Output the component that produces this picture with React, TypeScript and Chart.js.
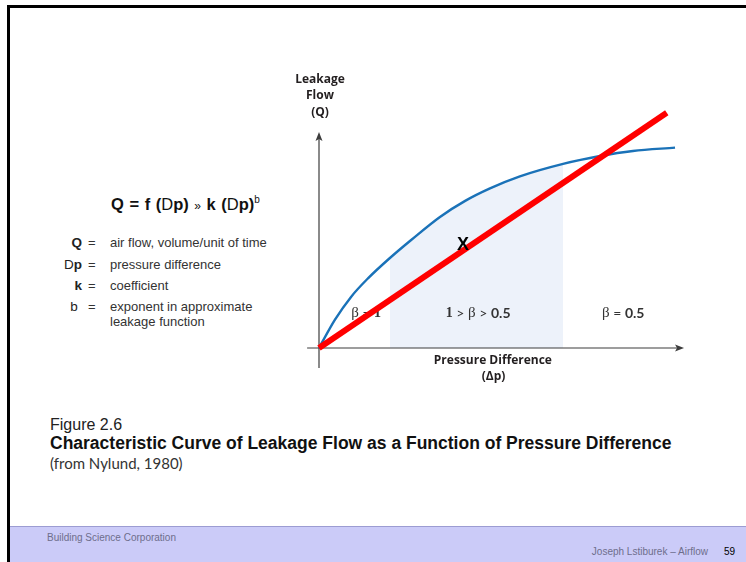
import React, { useEffect, useRef } from "react";
import { Chart, registerables } from "chart.js";

Chart.register(...registerables);

// ---- data (Δp, Q) in arbitrary units ----
const curveX = [0, 0.44, 0.89, 1.36, 1.97, 2.56, 3.36, 4.06, 4.75, 5.58, 6.78, 7.81, 8.72, 9.89];
const curveY = [0, 1.17, 2.13, 2.9, 3.75, 4.5, 5.46, 6.13, 6.65, 7.15, 7.67, 8.0, 8.21, 8.35];
const shadeFrom = 1.97;
const shadeTo = 6.78;
const lineX = [0, 9.66];
const lineY = [0, 9.8];
const markerX = 4.0;
const markerY = 4.28;
const xAxisRange = [-0.33, 10.14];
const yAxisRange = [-0.83, 9.0];

const curvePoints = curveX.map((x, i) => ({ x, y: curveY[i] }));
const shadePoints = curvePoints.filter((p) => p.x >= shadeFrom && p.x <= shadeTo);
const linePoints = lineX.map((x, i) => ({ x, y: lineY[i] }));

const SERIF = '"Liberation Serif", "DejaVu Serif", serif';
const SANS = 'Lato, "Liberation Sans", sans-serif';
const OPEN = '"Open Sans", "DejaVu Sans", sans-serif';

type Piece = [string, string];
const regionLabels: { x: number; y: number; pieces: Piece[] }[] = [
  { x: 1.31, y: 1.44, pieces: [["β", `15px ${SERIF}`], [" = ", `14px ${SANS}`], ["1", `bold 14px ${SERIF}`]] },
  {
    x: 4.42,
    y: 1.44,
    pieces: [
      ["1", `bold 14px ${SERIF}`],
      [" > ", `14px ${SANS}`],
      ["β", `15px ${SERIF}`],
      [" > ", `14px ${SANS}`],
      ["0.5", `bold 14px ${SANS}`],
    ],
  },
  { x: 8.45, y: 1.44, pieces: [["β", `15px ${SERIF}`], [" = ", `14px ${SANS}`], ["0.5", `bold 14px ${SANS}`]] },
];

function drawPieces(ctx: CanvasRenderingContext2D, cx: number, cy: number, pieces: Piece[]) {
  let total = 0;
  const widths = pieces.map(([t, f]) => {
    ctx.font = f;
    const w = ctx.measureText(t).width;
    total += w;
    return w;
  });
  let px = cx - total / 2;
  pieces.forEach(([t, f], i) => {
    ctx.font = f;
    ctx.fillText(t, px, cy);
    px += widths[i];
  });
}

const overlayPlugin = {
  id: "overlay",
  beforeDatasetDraw(chart: any, args: any) {
    if (args.index !== 1) return;
    const { ctx, scales } = chart;
    const xs = scales.x;
    const ys = scales.y;
    const px = (v: number) => xs.getPixelForValue(v);
    const py = (v: number) => ys.getPixelForValue(v);
    ctx.save();
    ctx.strokeStyle = "#3c3c3c";
    ctx.fillStyle = "#3c3c3c";
    ctx.lineWidth = 1.2;
    // x axis
    const x0 = px(0);
    const y0 = py(0);
    ctx.beginPath();
    ctx.moveTo(px(xAxisRange[0]), y0);
    ctx.lineTo(px(xAxisRange[1]) - 4, y0);
    ctx.stroke();
    const xe = px(xAxisRange[1]);
    ctx.beginPath();
    ctx.moveTo(xe, y0);
    ctx.lineTo(xe - 9, y0 - 3.5);
    ctx.lineTo(xe - 7, y0);
    ctx.lineTo(xe - 9, y0 + 3.5);
    ctx.closePath();
    ctx.fill();
    // y axis
    ctx.beginPath();
    ctx.moveTo(x0, py(yAxisRange[0]));
    ctx.lineTo(x0, py(yAxisRange[1]) + 4);
    ctx.stroke();
    const ye = py(yAxisRange[1]);
    ctx.beginPath();
    ctx.moveTo(x0, ye);
    ctx.lineTo(x0 - 3.5, ye + 9);
    ctx.lineTo(x0, ye + 7);
    ctx.lineTo(x0 + 3.5, ye + 9);
    ctx.closePath();
    ctx.fill();

    // axis titles
    ctx.fillStyle = "#231f20";
    ctx.textAlign = "center";
    ctx.textBaseline = "middle";
    ctx.font = `bold 12px ${OPEN}`;
    ctx.fillText("Leakage", x0 + 1, ye - 52);
    ctx.fillText("Flow", x0 + 1, ye - 36);
    ctx.fillText("(Q)", x0 + 1, ye - 19);
    ctx.fillText("Pressure Difference", px(4.83), y0 + 13);
    ctx.fillText("(Δp)", px(4.85), y0 + 29);

    // region labels
    ctx.textAlign = "left";
    ctx.fillStyle = "#333";
    regionLabels.forEach((l) => drawPieces(ctx, px(l.x), py(l.y), l.pieces));
    ctx.restore();
  },
  afterDatasetsDraw(chart: any) {
    const { ctx, scales } = chart;
    ctx.save();
    ctx.fillStyle = "#000";
    ctx.textAlign = "center";
    ctx.textBaseline = "middle";
    ctx.font = 'bold 18px "Liberation Sans", Arial, sans-serif';
    ctx.fillText("X", scales.x.getPixelForValue(markerX), scales.y.getPixelForValue(markerY));
    ctx.restore();
  },
};

function LeakageChart() {
  const ref = useRef<HTMLCanvasElement | null>(null);
  useEffect(() => {
    if (!ref.current) return;
    const chart = new Chart(ref.current, {
      type: "line",
      data: {
        datasets: [
          {
            data: linePoints,
            borderColor: "#ff0000",
            borderWidth: 6,
            pointRadius: 0,
            borderCapStyle: "butt",
            fill: false,
          },
          {
            data: curvePoints,
            borderColor: "#1a72b8",
            borderWidth: 2.4,
            pointRadius: 0,
            cubicInterpolationMode: "monotone",
            fill: false,
          },
          {
            data: shadePoints,
            borderWidth: 0,
            borderColor: "rgba(0,0,0,0)",
            backgroundColor: "#edf2fa",
            pointRadius: 0,
            cubicInterpolationMode: "monotone",
            fill: "origin",
          },
        ],
      } as any,
      options: {
        animation: false,
        responsive: false,
        devicePixelRatio: 1,
        layout: { padding: 0 },
        plugins: { legend: { display: false }, tooltip: { enabled: false } },
        events: [],
        scales: {
          x: { type: "linear", min: -1, max: 11, display: false },
          y: { type: "linear", min: -2, max: 12, display: false },
        },
      } as any,
      plugins: [overlayPlugin],
    });
    return () => chart.destroy();
  }, []);
  return (
    <canvas
      ref={ref}
      width={432}
      height={336}
      style={{ position: "absolute", left: 283, top: 60, width: 432, height: 336 }}
    />
  );
}

const ARIAL = '"Liberation Sans", Arial, sans-serif';

export default function App() {
  const defs: { sym: React.ReactNode; desc: string[]; top: number }[] = [
    { sym: <b>Q</b>, desc: ["air flow, volume/unit of time"], top: 243 },
    { sym: <span>D<b>p</b></span>, desc: ["pressure difference"], top: 265 },
    { sym: <b>k</b>, desc: ["coefficient"], top: 286 },
    { sym: <span>b</span>, desc: ["exponent in approximate", "leakage function"], top: 306.5 },
  ];
  return (
    <div
      style={{
        position: "absolute",
        left: 0,
        top: 0,
        width: 746,
        height: 562,
        background: "#fff",
        overflow: "hidden",
        fontFamily: ARIAL,
        color: "#222",
      }}
    >
      <div
        style={{
          position: "absolute",
          left: 7,
          top: 5,
          width: 800,
          height: 600,
          borderTop: "3px solid #000",
          borderLeft: "3px solid #000",
        }}
      />
      {/* formula */}
      <div
        style={{
          position: "absolute",
          left: 111,
          top: 190,
          fontSize: 16.5,
          fontWeight: "bold",
          whiteSpace: "nowrap",
          lineHeight: "20px",
          wordSpacing: 1,
          color: "#111",
        }}
      >
        Q = f (<span style={{ fontWeight: "normal" }}>D</span>p){" "}
        <span style={{ fontWeight: "normal", fontSize: 12 }}>»</span> k (
        <span style={{ fontWeight: "normal" }}>D</span>p)
        <sup style={{ fontWeight: "normal", fontSize: 10, verticalAlign: "7px" }}>b</sup>
      </div>
      {/* definitions */}
      {defs.map((d, i) => (
        <React.Fragment key={i}>
          <div
            style={{
              position: "absolute",
              left: 40,
              width: 42,
              top: d.top - 8,
              textAlign: i === 3 ? "center" : "right",
              paddingLeft: i === 3 ? 26 : 0,
              boxSizing: "border-box",
              fontSize: 13.5,
              lineHeight: "16px",
              color: "#222",
            }}
          >
            {d.sym}
          </div>
          <div
            style={{ position: "absolute", left: 88, top: d.top - 8, fontSize: 13, lineHeight: "16px", color: "#333" }}
          >
            =
          </div>
          <div
            style={{
              position: "absolute",
              left: 110,
              top: d.top - 8,
              fontSize: 13,
              lineHeight: "15px",
              color: "#333",
              whiteSpace: "nowrap",
            }}
          >
            {d.desc.map((t, j) => (
              <div key={j}>{t}</div>
            ))}
          </div>
        </React.Fragment>
      ))}
      <LeakageChart />
      {/* caption */}
      <div style={{ position: "absolute", left: 50, top: 415, fontSize: 16, lineHeight: "19px", color: "#222" }}>
        Figure 2.6
      </div>
      <div
        style={{
          position: "absolute",
          left: 50,
          top: 433,
          fontSize: 17.5,
          fontWeight: "bold",
          lineHeight: "20px",
          whiteSpace: "nowrap",
          color: "#111",
        }}
      >
        Characteristic Curve of Leakage Flow as a Function of Pressure Difference
      </div>
      <div
        style={{
          position: "absolute",
          left: 50,
          top: 454,
          fontSize: 15,
          lineHeight: "18px",
          fontFamily: SANS,
          color: "#333",
        }}
      >
        (from Nylund, 1980)
      </div>
      {/* footer */}
      <div
        style={{
          position: "absolute",
          left: 10,
          top: 526,
          width: 740,
          height: 40,
          background: "#cbcbf8",
          borderTop: "1px solid #9c9cd2",
        }}
      />
      <div style={{ position: "absolute", left: 47, top: 532, fontSize: 10, lineHeight: "12px", color: "#6e6e8c" }}>
        Building Science Corporation
      </div>
      <div
        style={{
          position: "absolute",
          right: 38,
          top: 546,
          fontSize: 10,
          lineHeight: "12px",
          color: "#6e6e8c",
          whiteSpace: "nowrap",
        }}
      >
        Joseph Lstiburek – Airflow
      </div>
      <div style={{ position: "absolute", left: 724, top: 546, fontSize: 10, lineHeight: "12px", color: "#000" }}>
        59
      </div>
    </div>
  );
}
